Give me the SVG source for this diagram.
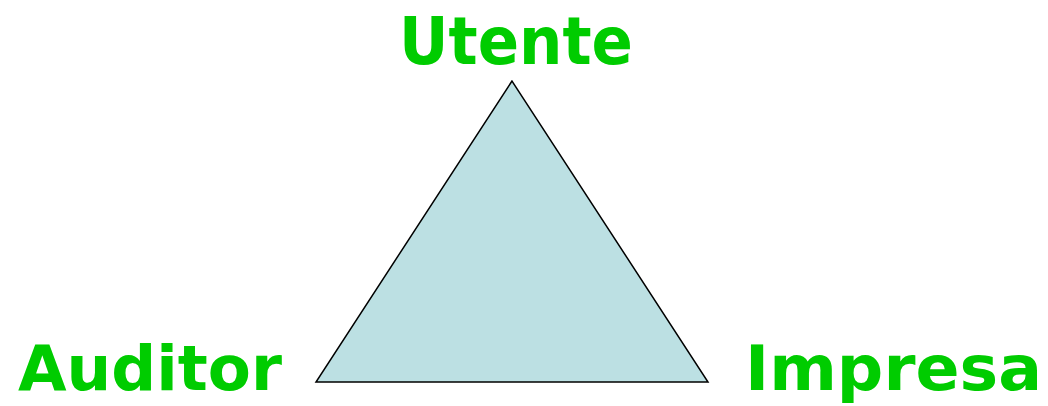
<svg xmlns="http://www.w3.org/2000/svg" width="1048" height="406" viewBox="0 0 1048 406">
<style>
.lbl{font-family:"DejaVu Sans","Verdana",sans-serif;font-weight:bold;font-size:66px;fill:#00CC00}
.lbl.bottom{font-size:63px}
</style>
<rect width="1048" height="406" fill="#ffffff"/>
<g id="triangle">
<polygon points="512,81 316,382 708,382" fill="#BCE0E3" stroke="#000000" stroke-width="1.5"/>
</g>
<g id="connectors"></g>
<g id="utente"><text class="lbl" x="399" y="64" textLength="234" lengthAdjust="spacingAndGlyphs">Utente</text></g>
<g id="auditor"><text class="lbl bottom" x="18" y="390" textLength="264" lengthAdjust="spacingAndGlyphs">Auditor</text></g>
<g id="impresa"><text class="lbl bottom" x="745" y="390" textLength="297" lengthAdjust="spacingAndGlyphs">Impresa</text></g>
</svg>
